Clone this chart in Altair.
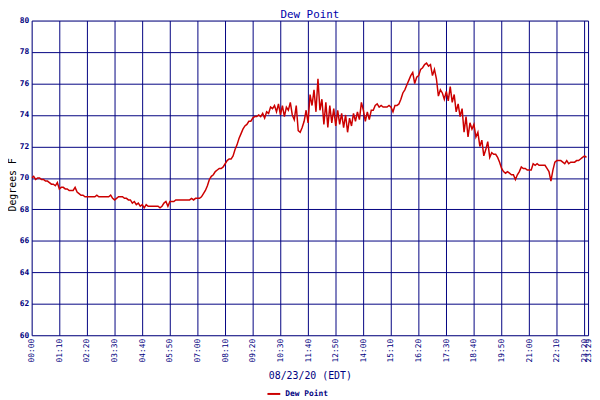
import altair as alt
import pandas as pd

# Dew point readings (deg F), one every 5 minutes from 00:00
values = [
    70.0, 70.1, 69.9, 70.0, 70.0, 69.9, 69.9, 69.8, 69.8, 69.7,
    69.6, 69.6, 69.5, 69.7, 69.3, 69.4, 69.4, 69.3, 69.3, 69.2,
    69.2, 69.2, 69.4, 69.1, 69.0, 68.9, 68.9, 68.8, 68.8, 68.8,
    68.8, 68.8, 68.8, 68.9, 68.8, 68.8, 68.8, 68.8, 68.8, 68.8,
    68.9, 68.7, 68.6, 68.7, 68.8, 68.8, 68.8, 68.7, 68.7, 68.6,
    68.6, 68.4, 68.5, 68.3, 68.4, 68.2, 68.3, 68.1, 68.3, 68.2,
    68.2, 68.2, 68.2, 68.2, 68.2, 68.1, 68.2, 68.4, 68.5, 68.2,
    68.5, 68.5, 68.5, 68.6, 68.6, 68.6, 68.6, 68.6, 68.6, 68.6,
    68.6, 68.7, 68.6, 68.7, 68.7, 68.7, 68.8, 69.0, 69.2, 69.5,
    69.9, 70.1, 70.2, 70.4, 70.5, 70.6, 70.6, 70.7, 70.9, 71.1,
    71.2, 71.2, 71.4, 71.8, 72.1, 72.5, 72.8, 73.1, 73.3, 73.4,
    73.6, 73.6, 73.8, 73.9, 73.9, 74.0, 73.9, 74.1, 73.8, 74.2,
    74.1, 74.5, 74.4, 74.6, 74.2, 74.7, 74.0, 74.6, 73.9, 74.5,
    74.3, 74.8, 74.0, 73.7, 74.6, 73.0, 72.9, 73.2, 73.6, 74.3,
    73.5, 75.3, 74.6, 75.6, 74.2, 76.3, 74.3, 75.0, 73.4, 74.8,
    73.2, 74.6, 73.5, 74.4, 73.3, 74.3, 73.4, 74.1, 73.2, 74.0,
    72.9, 73.8, 73.3, 74.1, 73.6, 74.2, 73.7, 74.8, 74.3, 73.6,
    74.2, 73.7, 74.3, 74.3, 74.6, 74.7, 74.5, 74.6, 74.5, 74.5,
    74.5, 74.6, 74.5, 74.2, 74.6, 74.6, 74.7, 75.0, 75.4, 75.6,
    75.9, 76.2, 76.5, 76.7, 76.0, 76.4, 76.5, 76.9, 77.0, 77.2,
    77.3, 77.1, 77.2, 76.5, 76.9, 76.3, 75.2, 75.6, 75.4, 75.0,
    75.5, 74.9, 75.8, 74.8, 75.3, 74.2, 74.7, 73.9, 74.4, 72.9,
    73.9, 72.6, 73.5, 73.1, 73.4, 72.6, 72.9, 72.0, 72.4, 71.4,
    71.8, 72.3, 71.3, 71.6, 71.5, 71.5, 71.3, 71.0, 70.6, 70.4,
    70.3, 70.4, 70.3, 70.2, 70.2, 69.9, 70.2, 70.4, 70.7, 70.6,
    70.6, 70.5, 70.5, 70.5, 70.9, 70.8, 70.9, 70.8, 70.8, 70.8,
    70.8, 70.6, 70.4, 69.8, 70.5, 71.0, 71.1, 71.1, 71.1, 71.0,
    70.9, 71.1, 70.9, 71.0, 71.0, 71.0, 71.1, 71.1, 71.2, 71.3,
    71.4, 71.3,
]
minutes = [5 * i for i in range(len(values))]

tick_minutes = [0, 70, 140, 210, 280, 350, 420, 490, 560, 630, 700, 770,
                840, 910, 980, 1050, 1120, 1190, 1260, 1330, 1400, 1409]
tick_labels = ["00:00", "01:10", "02:20", "03:30", "04:40", "05:50", "07:00",
               "08:10", "09:20", "10:30", "11:40", "12:50", "14:00", "15:10",
               "16:20", "17:30", "18:40", "19:50", "21:00", "22:10", "23:20",
               "23:29"]
y_ticks = [60, 62, 64, 66, 68, 70, 72, 74, 76, 78, 80]

df = pd.DataFrame({"minute": minutes, "dew": values, "series": "Dew Point"})

NAVY = "#000080"
FONT = "DejaVu Sans Mono"

label_expr = ("[" + ",".join(f"'{l}'" for l in tick_labels) + "][indexof(["
              + ",".join(str(m) for m in tick_minutes) + "], datum.value)]")

chart = alt.Chart(df).mark_line(
    color="#cc0000", strokeWidth=1.5, interpolate="linear", clip=True
).encode(
    x=alt.X("minute:Q",
            scale=alt.Scale(domain=[0, 1409], nice=False, zero=False),
            axis=alt.Axis(values=tick_minutes, labelExpr=label_expr,
                          labelAngle=270, labelFont=FONT, labelFontSize=8,
                          labelColor=NAVY, labelPadding=3, ticks=False,
                          domain=False, grid=True, gridColor=NAVY,
                          gridOpacity=1, gridWidth=1,
                          labelOverlap=False, labelFlush=False,
                          title="08/23/20 (EDT)", titleFont=FONT,
                          titleFontSize=10, titleFontWeight="normal",
                          titleColor=NAVY, titleY=36, titleBaseline="top")),
    y=alt.Y("dew:Q",
            scale=alt.Scale(domain=[60, 80], nice=False, zero=False),
            axis=alt.Axis(values=y_ticks, labelFont=FONT, labelFontSize=8,
                          labelColor=NAVY, labelPadding=3, ticks=False,
                          domain=False, grid=True, gridColor=NAVY,
                          gridOpacity=1, gridWidth=1, labelFontWeight="bold",
                          title="Degrees F", titleFont=FONT, titleFontSize=10,
                          titleFontWeight="normal", titleColor="#000000",
                          titleAngle=270, titleX=-14, titleY=166,
                          titleAlign="center", titleBaseline="bottom")),
    color=alt.Color("series:N",
                    scale=alt.Scale(domain=["Dew Point"], range=["#cc0000"]),
                    legend=alt.Legend(orient="none", legendX=238, legendY=371,
                                      title=None, symbolType="stroke",
                                      symbolStrokeWidth=2, symbolSize=169,
                                      labelFont=FONT, labelFontSize=8,
                                      labelFontWeight="bold", labelColor=NAVY)),
).properties(
    width=564,
    height=319,
    title=alt.TitleParams("Dew Point", font=FONT, fontSize=11,
                          fontWeight="normal", color="#0000aa", offset=0,
                          dy=3),
    autosize=alt.AutoSizeParams(type="none"),
    padding={"left": 24, "top": 10, "right": 4, "bottom": 70},
).configure_view(
    stroke=NAVY, strokeWidth=1
).configure(background="white")

chart.save("out.html", embed_options={"renderer": "svg", "actions": False})
